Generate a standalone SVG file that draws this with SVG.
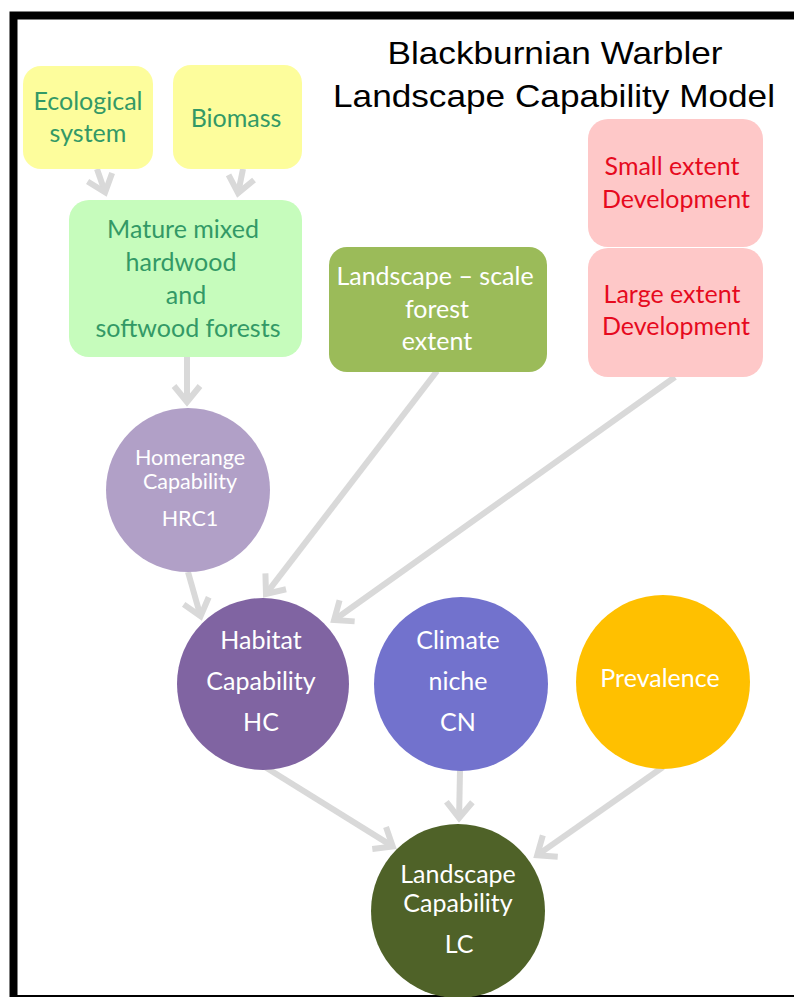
<svg xmlns="http://www.w3.org/2000/svg" width="794" height="997" viewBox="0 0 794 997">
  <style>
    .t { font-family: Lato, "Open Sans", "Liberation Sans", sans-serif; text-anchor: middle; }
    .green { fill: #339966; font-size: 25px; }
    .red { fill: #e60a1e; font-size: 25px; }
    .white { fill: #ffffff; font-size: 25px; }
    .small { font-size: 21.5px; }
    .title { font-family: "Liberation Sans", Arial, sans-serif; font-size: 32px; fill: #000; text-anchor: middle; }
    .conn { stroke: #d9d9d9; stroke-width: 6; fill: none; }
  </style>
  <defs>
    <marker id="arrow" markerUnits="userSpaceOnUse" markerWidth="40" markerHeight="40" viewBox="-20 -20 40 40" refX="0" refY="0" orient="auto" overflow="visible">
      <path d="M -15,-13 L 1,0 L -15,13" fill="none" stroke="#d9d9d9" stroke-width="6" stroke-linejoin="miter" stroke-miterlimit="10"/>
    </marker>
  </defs>

  <rect x="0" y="0" width="794" height="997" fill="#ffffff"/>
  <rect x="13.5" y="15.5" width="800" height="983.5" fill="none" stroke="#000000" stroke-width="8"/>

  <g id="title">
    <text class="title" x="555" y="64" textLength="335" lengthAdjust="spacingAndGlyphs">Blackburnian Warbler</text>
    <text class="title" x="554" y="107" textLength="442" lengthAdjust="spacingAndGlyphs">Landscape Capability Model</text>
  </g>

  <g id="connectors">
    <line class="conn" x1="97" y1="169" x2="104.8" y2="191.4" marker-end="url(#arrow)"/>
    <line class="conn" x1="243" y1="169" x2="238.3" y2="192.1" marker-end="url(#arrow)"/>
    <line class="conn" x1="187" y1="357" x2="187" y2="401" marker-end="url(#arrow)"/>
    <line class="conn" x1="188" y1="572" x2="200.3" y2="615.2" marker-end="url(#arrow)"/>
    <line class="conn" x1="437" y1="371" x2="266.6" y2="593.2" marker-end="url(#arrow)"/>
    <line class="conn" x1="675" y1="377" x2="334.9" y2="619.5" marker-end="url(#arrow)"/>
    <line class="conn" x1="265" y1="767" x2="391.9" y2="845.9" marker-end="url(#arrow)"/>
    <line class="conn" x1="460" y1="770" x2="459.1" y2="817" marker-end="url(#arrow)"/>
    <line class="conn" x1="663" y1="767" x2="538" y2="854.6" marker-end="url(#arrow)"/>
  </g>

  <g id="ecological">
    <rect x="23" y="66" width="130" height="103" rx="18" fill="#fdfd9c"/>
    <text class="t green" x="88" y="110">Ecological</text>
    <text class="t green" x="88" y="142">system</text>
  </g>
  <g id="biomass">
    <rect x="173" y="65" width="129" height="104" rx="18" fill="#fdfd9c"/>
    <text class="t green" x="236" y="127">Biomass</text>
  </g>
  <g id="mature">
    <rect x="69" y="200" width="233" height="157" rx="20" fill="#c6fcbc"/>
    <text class="t green" x="183" y="238">Mature mixed</text>
    <text class="t green" x="181" y="271">hardwood</text>
    <text class="t green" x="186" y="304">and</text>
    <text class="t green" x="188" y="337">softwood forests</text>
  </g>
  <g id="landscape-forest">
    <rect x="329" y="247" width="218" height="125" rx="18" fill="#9bbb59"/>
    <text class="t white" x="435" y="285">Landscape – scale</text>
    <text class="t white" x="437" y="318">forest</text>
    <text class="t white" x="437" y="350">extent</text>
  </g>
  <g id="small-dev">
    <rect x="588" y="119" width="175" height="128" rx="20" fill="#fec8c8"/>
    <text class="t red" x="672" y="175">Small extent</text>
    <text class="t red" x="676" y="208">Development</text>
  </g>
  <g id="large-dev">
    <rect x="588" y="248" width="175" height="129" rx="20" fill="#fec8c8"/>
    <text class="t red" x="672" y="303">Large extent</text>
    <text class="t red" x="676" y="335">Development</text>
  </g>

  <g id="hrc">
    <circle cx="188" cy="490" r="82" fill="#b1a0c7"/>
    <text class="t white small" x="190" y="465">Homerange</text>
    <text class="t white small" x="190" y="489">Capability</text>
    <text class="t white small" x="190" y="526">HRC1</text>
  </g>
  <g id="hc">
    <circle cx="263" cy="684" r="86" fill="#8064a2"/>
    <text class="t white" x="261" y="649">Habitat</text>
    <text class="t white" x="261" y="690">Capability</text>
    <text class="t white" x="261" y="731">HC</text>
  </g>
  <g id="cn">
    <circle cx="461" cy="684" r="87" fill="#7272cd"/>
    <text class="t white" x="458" y="649">Climate</text>
    <text class="t white" x="458" y="690">niche</text>
    <text class="t white" x="458" y="731">CN</text>
  </g>
  <g id="prevalence">
    <circle cx="663" cy="682" r="87" fill="#ffc000"/>
    <text class="t white" x="660" y="687">Prevalence</text>
  </g>
  <g id="lc">
    <circle cx="458" cy="911" r="87" fill="#4f6228"/>
    <text class="t white" x="458" y="883">Landscape</text>
    <text class="t white" x="458" y="912">Capability</text>
    <text class="t white" x="459" y="953">LC</text>
  </g>
</svg>
